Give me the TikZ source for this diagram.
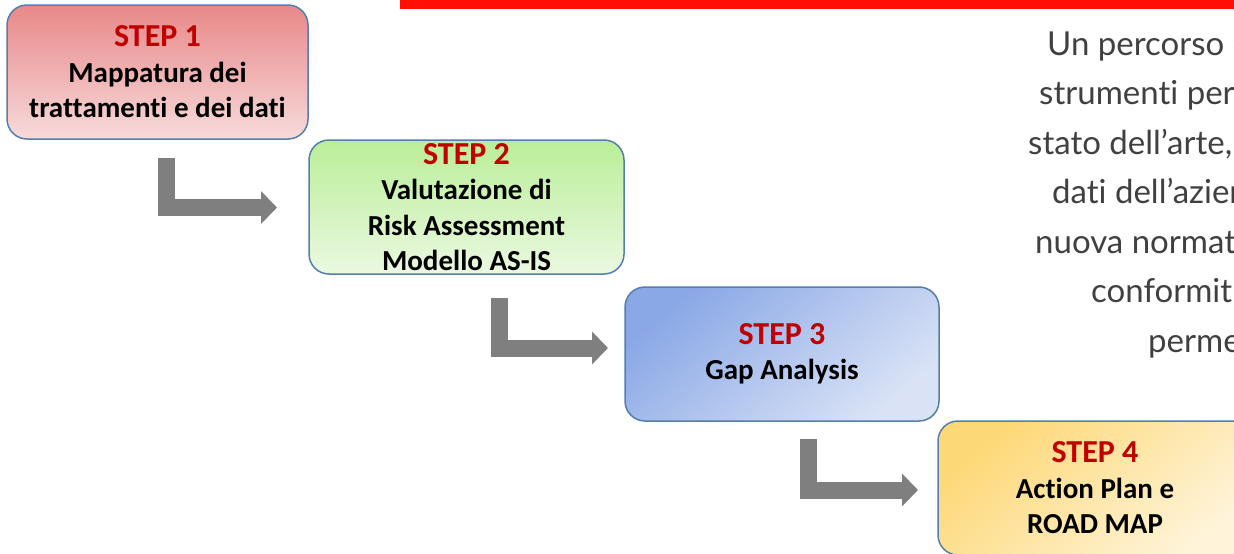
\documentclass[tikz,border=0pt]{standalone}
\usepackage{fontspec}
\newfontfamily\boxfont[Ligatures=NoCommon]{Carlito}
\newfontfamily\notefont[Ligatures=NoCommon]{Lato}
\usetikzlibrary{positioning,arrows.meta}
\definecolor{stepred}{RGB}{192,0,0}
\definecolor{boxblue}{RGB}{84,126,172}
\definecolor{arrowgray}{RGB}{127,127,127}
\definecolor{barred}{RGB}{255,16,5}
\definecolor{notegray}{RGB}{64,64,64}
\newcommand{\steptitle}[1]{\textcolor{stepred}{\fontsize{32}{35.5}\selectfont #1}}
\tikzstyle{stepbox} = [rectangle, rounded corners=20pt, minimum height=134pt, inner sep=0pt, outer sep=0pt, align=center, draw=boxblue, line width=1.5pt, font=\boxfont\bfseries\fontsize{29}{35.5}\selectfont]
\tikzstyle{bendarrow} = [line width=17pt, draw=arrowgray, -{Triangle[width=32pt,length=16pt]}]
\tikzstyle{note} = [anchor=base west, inner sep=0pt, text=notegray, font=\notefont\fontsize{33}{33}\selectfont]

\begin{document}
\begin{tikzpicture}[x=1pt, y=-1pt]
\useasboundingbox (0,0) rectangle (1234,554);
\clip (0,0) rectangle (1234,554);

% Barra rossa in alto
\fill[barred] (400,0) rectangle (1234,9);

% Scala degli step
\node (step1) [stepbox, minimum width=301pt, top color={rgb,255:red,232;green,136;blue,137}, bottom color={rgb,255:red,247;green,218;blue,218}] at (157.5,72) {\steptitle{STEP 1}\\Mappatura dei\\trattamenti e dei dati};
\node (step2) [stepbox, minimum width=315pt, top color={rgb,255:red,186;green,238;blue,152}, bottom color={rgb,255:red,234;green,249;blue,225}, below right=1pt and 1pt of step1] {\steptitle{STEP 2}\\Valutazione di\\Risk Assessment\\Modello AS-IS};
\node (step3) [stepbox, minimum width=314pt, left color={rgb,255:red,138;green,168;blue,230}, right color={rgb,255:red,218;green,227;blue,246}, shading angle=40, below right=13pt and 1pt of step2] {\steptitle{STEP 3}\\Gap Analysis};
\node (step4) [stepbox, minimum width=314pt, left color={rgb,255:red,253;green,216;blue,118}, right color={rgb,255:red,255;green,244;blue,218}, shading angle=40, below right=0pt and -1pt of step3] {\steptitle{STEP 4}\\Action Plan e\\ROAD MAP};

% Frecce a gomito
\coordinate (a1s) at (166,158);
\coordinate (a1e) at (277,207.5);
\coordinate (a2s) at (499,298);
\coordinate (a2e) at (608,348);
\coordinate (a3s) at (808,439);
\coordinate (a3e) at (918,490);
\draw [bendarrow] (a1s) |- (a1e);
\draw [bendarrow] (a2s) |- (a2e);
\draw [bendarrow] (a3s) |- (a3e);

% Testo a destra
\node (note1) [note] at (1047,55) {Un percorso d};
\node (note2) [note] at (1039,104.5) {strumenti per};
\node (note3) [note] at (1028,154) {stato dell’arte,};
\node (note4) [note] at (1052,203.5) {dati dell’azien};
\node (note5) [note] at (1035,253) {nuova normat};
\node (note6) [note] at (1091,302.5) {conformit};
\node (note7) [note] at (1148,352) {perme};

\end{tikzpicture}
\end{document}
